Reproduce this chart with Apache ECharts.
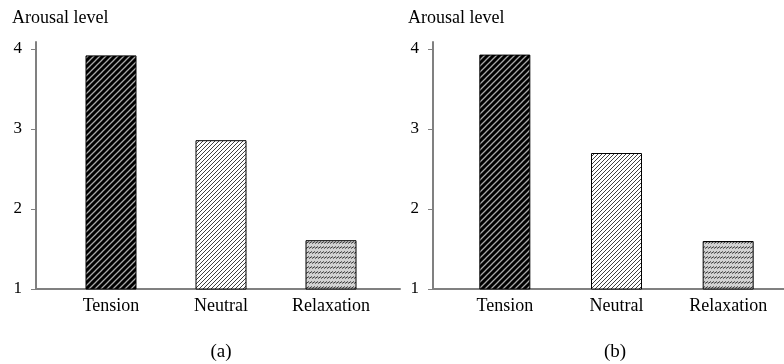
<!DOCTYPE html>
<html>
<head>
<meta charset="utf-8">
<script src="https://cdn.jsdelivr.net/npm/echarts@6/dist/echarts.min.js"></script>
<style>html,body{margin:0;padding:0;background:#fff}#c{width:784px;height:364px}</style>
</head>
<body>
<div id="c"></div>
<script>
var categories = ['Tension', 'Neutral', 'Relaxation'];
var valuesA = [3.92, 2.86, 1.61];
var valuesB = [3.93, 2.70, 1.60];
var yTicks = [1, 2, 3, 4];
var yTitle = 'Arousal level';
var panelLabels = ['(a)', '(b)'];

var FONT = '"Liberation Serif", "DejaVu Serif", serif';

function diagTile(size, bg, fg, lw) {
  var c = document.createElement('canvas');
  c.width = size; c.height = size;
  var g = c.getContext('2d');
  g.fillStyle = bg; g.fillRect(0, 0, size, size);
  g.strokeStyle = fg; g.lineWidth = lw;
  g.beginPath();
  g.moveTo(-1, size + 1); g.lineTo(size + 1, -1);
  g.moveTo(-1, 1); g.lineTo(1, -1);
  g.moveTo(size - 1, size + 1); g.lineTo(size + 1, size - 1);
  g.stroke();
  return c;
}
function dashTile() {
  var c = document.createElement('canvas');
  c.width = 3; c.height = 5;
  var g = c.getContext('2d');
  g.fillStyle = '#d2d2d2'; g.fillRect(0, 0, 3, 5);
  g.strokeStyle = '#3a3a3a'; g.lineWidth = 1;
  g.beginPath();
  g.moveTo(0, 3.5); g.lineTo(3, 1.5);
  g.stroke();
  return c;
}
var patterns = [
  { image: diagTile(6, '#000', '#a8a8a8', 1.3), repeat: 'repeat' },
  { image: diagTile(4, '#fff', '#404040', 1), repeat: 'repeat' },
  { image: dashTile(), repeat: 'repeat' }
];

function barData(vals) {
  return vals.map(function (v, i) {
    return { value: v, itemStyle: { color: patterns[i], borderColor: '#000', borderWidth: 1 } };
  });
}

var axisGrey = '#808080';
var chart = echarts.init(document.getElementById('c'), null, { renderer: 'canvas' });

function frameX(gi) {
  return { type: 'category', gridIndex: gi, data: categories, boundaryGap: true,
    axisLine: { show: true, lineStyle: { color: axisGrey, width: 2 } },
    axisTick: { show: false }, axisLabel: { show: false }, splitLine: { show: false } };
}
function labelX(gi) {
  return { type: 'category', gridIndex: gi, data: categories, boundaryGap: true,
    axisLine: { show: false }, axisTick: { show: false }, splitLine: { show: false },
    axisLabel: { show: true, color: '#000', fontSize: 18, fontFamily: FONT, margin: 8 } };
}
function frameY(gi) {
  return { type: 'value', gridIndex: gi, min: 1, max: 4.09,
    axisLine: { show: true, lineStyle: { color: axisGrey, width: 2 } },
    axisTick: { show: false }, axisLabel: { show: false }, splitLine: { show: false } };
}
function labelY(gi, off) {
  return { type: 'value', gridIndex: gi, min: yTicks[0], max: yTicks[yTicks.length - 1], interval: 1, offset: off,
    axisLine: { show: false },
    axisTick: { show: true, length: 5, lineStyle: { color: axisGrey, width: 1 } },
    axisLabel: { show: true, color: '#000', fontSize: 17, fontFamily: FONT, margin: 14 },
    splitLine: { show: false } };
}

chart.setOption({
  animation: false,
  backgroundColor: '#fff',
  grid: [
    { left: 36, top: 42, width: 364, height: 247 },
    { left: 56, top: 49, width: 330, height: 240 },
    { left: 433, top: 42, width: 351, height: 247 },
    { left: 449, top: 49, width: 338, height: 240 }
  ],
  xAxis: [frameX(0), labelX(1), frameX(2), labelX(3)],
  yAxis: [frameY(0), labelY(1, 20), frameY(2), labelY(3, 16)],
  series: [
    { type: 'bar', xAxisIndex: 1, yAxisIndex: 1, barWidth: 51, data: barData(valuesA) },
    { type: 'bar', xAxisIndex: 3, yAxisIndex: 3, barWidth: 51, data: barData(valuesB) }
  ],
  graphic: [
    { type: 'text', x: 12, y: 18, style: { text: yTitle, font: '18px ' + FONT, fill: '#000', align: 'left', verticalAlign: 'middle' } },
    { type: 'text', x: 408, y: 18, style: { text: yTitle, font: '18px ' + FONT, fill: '#000', align: 'left', verticalAlign: 'middle' } },
    { type: 'text', x: 221, y: 352, style: { text: panelLabels[0], font: '19px ' + FONT, fill: '#000', align: 'center', verticalAlign: 'middle' } },
    { type: 'text', x: 615, y: 352, style: { text: panelLabels[1], font: '19px ' + FONT, fill: '#000', align: 'center', verticalAlign: 'middle' } }
  ]
});
</script>
</body>
</html>
